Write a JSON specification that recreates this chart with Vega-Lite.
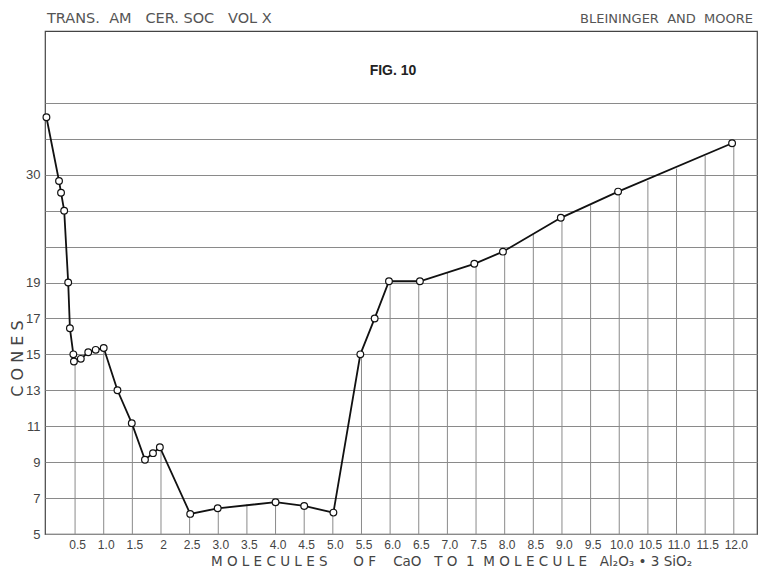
{
  "$schema": "https://vega.github.io/schema/vega-lite/v6.json",
  "autosize": "none",
  "width": 712,
  "height": 503,
  "padding": {"left": 45, "top": 31, "right": 3, "bottom": 33},
  "background": "white",
  "config": {
    "font": "DejaVu Sans",
    "view": {"stroke": "#444", "strokeWidth": 1.2},
    "axis": {"domain": false, "ticks": false, "labelColor": "#444", "titleColor": "#444", "titleFontWeight": "normal", "labelOverlap": false, "labelBound": false}
  },
  "datasets": {
    "curve": [
      {"x": 0.0, "cone": 33.2},
      {"x": 0.22, "cone": 29.65},
      {"x": 0.255, "cone": 29.0},
      {"x": 0.31, "cone": 28.0},
      {"x": 0.38, "cone": 19.0},
      {"x": 0.41, "cone": 16.45},
      {"x": 0.47, "cone": 15.0},
      {"x": 0.48, "cone": 14.6},
      {"x": 0.6, "cone": 14.75},
      {"x": 0.73, "cone": 15.12},
      {"x": 0.86, "cone": 15.25},
      {"x": 1.0, "cone": 15.35},
      {"x": 1.24, "cone": 13.0},
      {"x": 1.49, "cone": 11.17},
      {"x": 1.72, "cone": 9.13},
      {"x": 1.86, "cone": 9.5},
      {"x": 1.98, "cone": 9.83},
      {"x": 2.51, "cone": 6.12},
      {"x": 2.99, "cone": 6.43},
      {"x": 4.0, "cone": 6.77},
      {"x": 4.5, "cone": 6.56},
      {"x": 5.01, "cone": 6.19},
      {"x": 5.48, "cone": 15.0},
      {"x": 5.73, "cone": 17.0},
      {"x": 5.98, "cone": 19.07},
      {"x": 6.52, "cone": 19.07},
      {"x": 7.47, "cone": 20.24},
      {"x": 7.97, "cone": 24.3},
      {"x": 8.98, "cone": 27.6},
      {"x": 9.98, "cone": 29.06},
      {"x": 11.97, "cone": 31.75}
    ],
    "drops": [
      {"x": 0.5, "top": 15.0},
      {"x": 1.0, "top": 15.35},
      {"x": 1.5, "top": 11.17},
      {"x": 2.0, "top": 9.83},
      {"x": 2.5, "top": 6.12},
      {"x": 3.0, "top": 6.43},
      {"x": 3.5, "top": 6.65},
      {"x": 4.0, "top": 6.77},
      {"x": 4.5, "top": 6.56},
      {"x": 5.0, "top": 6.19},
      {"x": 5.5, "top": 15.0},
      {"x": 6.0, "top": 19.07},
      {"x": 6.5, "top": 19.07},
      {"x": 7.0, "top": 19.56},
      {"x": 7.5, "top": 20.24},
      {"x": 8.0, "top": 24.3},
      {"x": 8.5, "top": 26.68},
      {"x": 9.0, "top": 27.6},
      {"x": 9.5, "top": 28.3},
      {"x": 10.0, "top": 29.06},
      {"x": 10.5, "top": 29.65},
      {"x": 11.0, "top": 30.34},
      {"x": 11.5, "top": 31.04},
      {"x": 12.0, "top": 31.75}
    ]
  },
  "layer": [
    {
      "data": {"name": "drops"},
      "mark": {"type": "rule", "color": "#8a8a8a", "strokeWidth": 1},
      "encoding": {
        "x": {
          "field": "x", "type": "quantitative",
          "scale": {"domain": [-0.025, 12.405], "nice": false, "zero": false},
          "axis": {
            "values": [0.5,1,1.5,2,2.5,3,3.5,4,4.5,5,5.5,6,6.5,7,7.5,8,8.5,9,9.5,10,10.5,11,11.5,12],
            "tickCount": 40,
            "labelExpr": "datum.value == 2 ? '2' : format(datum.value, '.1f')",
            "labelFont": "Liberation Sans",
            "labelFontSize": 12,
            "labelPadding": 5,
            "labelOffset": 2,
            "labelFlush": false,
            "labelOverlap": false,
            "labelBound": false,
            "grid": false,
            "title": "M O L E C U L E S\u00a0\u00a0\u00a0\u00a0\u00a0 O F\u00a0\u00a0\u00a0 CaO\u00a0\u00a0 T O\u00a0 1\u00a0 M O L E C U L E\u00a0\u00a0 Al₂O₃ • 3 SiO₂",
            "titleFontSize": 13.5,
            "titleX": 406,
            "titleY": 27,
            "titleAlign": "center",
            "titleBaseline": "middle"
          }
        },
        "y": {
          "field": "top", "type": "quantitative",
          "scale": {"domain": [5, 20, 26, 38], "range": [503, 233.54, 215.57, 0], "nice": false, "zero": false},
          "axis": {
            "values": [5,7,9,11,13,15,17,19,26,28,30,32,34],
            "tickCount": 40,
            "labelExpr": "indexof([5,7,9,11,13,15,17,19,30], datum.value) >= 0 ? datum.label : ''",
            "labelFont": "Liberation Sans",
            "labelFontSize": 13,
            "labelPadding": 5,
            "grid": true,
            "gridColor": "#8a8a8a",
            "gridWidth": 1,
            "title": "C O N E S",
            "titleFontSize": 16,
            "titleX": -28,
            "titleY": 327,
            "titleAngle": 270,
            "titleAlign": "center",
            "titleBaseline": "middle"
          }
        },
        "y2": {"datum": 5}
      }
    },
    {
      "data": {"name": "curve"},
      "mark": {"type": "line", "color": "#111", "strokeWidth": 1.8},
      "encoding": {
        "x": {"field": "x", "type": "quantitative"},
        "y": {"field": "cone", "type": "quantitative"}
      }
    },
    {
      "data": {"name": "curve"},
      "mark": {"type": "point", "filled": true, "fill": "white", "stroke": "#111", "strokeWidth": 1.2, "size": 45, "opacity": 1},
      "encoding": {
        "x": {"field": "x", "type": "quantitative"},
        "y": {"field": "cone", "type": "quantitative"}
      }
    },
    {
      "data": {"values": [{}]},
      "mark": {"type": "text", "text": "FIG. 10", "font": "Liberation Sans", "fontWeight": "bold", "fontSize": 14, "align": "center", "baseline": "middle", "color": "#222"},
      "encoding": {
        "x": {"datum": 6.05, "type": "quantitative"},
        "y": {"datum": 35.8, "type": "quantitative"}
      }
    },
    {
      "data": {"values": [{}]},
      "mark": {"type": "text", "text": "TRANS.\u00a0 AM\u00a0\u00a0 CER. SOC\u00a0\u00a0 VOL X", "fontSize": 14.5, "align": "left", "baseline": "alphabetic", "dx": 2, "dy": -8, "color": "#555"},
      "encoding": {
        "x": {"datum": -0.025, "type": "quantitative"},
        "y": {"datum": 38, "type": "quantitative"}
      }
    },
    {
      "data": {"values": [{}]},
      "mark": {"type": "text", "text": "BLEININGER\u00a0 AND\u00a0 MOORE", "fontSize": 13, "align": "right", "baseline": "alphabetic", "dx": -4, "dy": -8, "color": "#555"},
      "encoding": {
        "x": {"datum": 12.405, "type": "quantitative"},
        "y": {"datum": 38, "type": "quantitative"}
      }
    }
  ]
}
